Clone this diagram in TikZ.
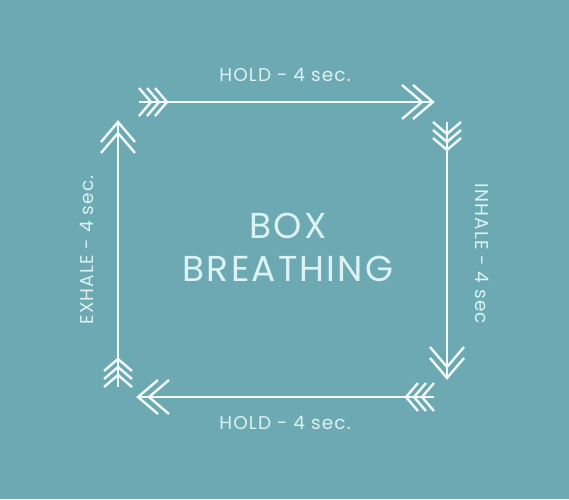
\documentclass[tikz,border=0pt]{standalone}
\usepackage{fontspec}
\setmainfont{Poppins}
\newfontfamily\spacedfont[LetterSpace=6]{Poppins}
\begin{document}
\begin{tikzpicture}[x=1pt,y=1pt,
  shaft/.style={draw=arrowc,line width=2.6pt},
  chev/.style={draw=arrowc,line width=2.4pt,line cap=butt,line join=miter},
  lbl/.style={text=textc,font=\spacedfont\fontsize{18.5}{18.5}\selectfont,inner sep=0pt},
  title/.style={text=textc,font=\spacedfont\fontsize{36}{43}\selectfont,align=center,inner sep=0pt},
  headchev/.pic={
    \draw[chev] (-20,17) -- (0,0) -- (-20,-17);
    \draw[chev] (-31,17) -- (-11,0) -- (-31,-17);
  },
  tailchev/.pic={
    \draw[chev] (-12,14) -- (0,0) -- (-12,-14);
    \draw[chev] (-20,14) -- (-8,0) -- (-20,-14);
    \draw[chev] (-28,14) -- (-16,0) -- (-28,-14);
  }]
\definecolor{bgc}{HTML}{6DA9B3}
\definecolor{arrowc}{HTML}{F2FBFB}
\definecolor{textc}{HTML}{DCF2F3}
\fill[bgc] (0,0) rectangle (569,499);
\useasboundingbox (0,0) rectangle (569,499);
% image y -> 499 - y
\coordinate (t1) at (139,397);
\coordinate (h1) at (433,397);
\coordinate (t2) at (447,377);
\coordinate (h2) at (447,121);
\coordinate (t3) at (434,102);
\coordinate (h3) at (138,102);
\coordinate (t4) at (118,112);
\coordinate (h4) at (118,377);
\draw[shaft] (t1) -- ([xshift=-2]h1);
\draw[shaft] (t2) -- ([yshift=2]h2);
\draw[shaft] (t3) -- ([xshift=2]h3);
\draw[shaft] (t4) -- ([yshift=-2]h4);
\pic[rotate=0] at ([xshift=28]t1) {tailchev};
\pic[rotate=0] at (h1) {headchev};
\pic[rotate=-90] at ([yshift=-28]t2) {tailchev};
\pic[rotate=-90] at (h2) {headchev};
\pic[rotate=180] at ([xshift=-28]t3) {tailchev};
\pic[rotate=180] at (h3) {headchev};
\pic[rotate=90] at ([yshift=28]t4) {tailchev};
\pic[rotate=90] at (h4) {headchev};
% labels
\node[lbl] (ltop) at (285,424) {HOLD - 4 sec.};
\node[lbl] (lbot) at (285,76) {HOLD - 4 sec.};
\node[lbl,rotate=-90] (lright) at (482,245) {INHALE - 4 sec};
\node[lbl,rotate=90] (lleft) at (87,249) {EXHALE - 4 sec.};
\node[title] (box) at (288,252) {BOX\\BREATHING};
\end{tikzpicture}
\end{document}
